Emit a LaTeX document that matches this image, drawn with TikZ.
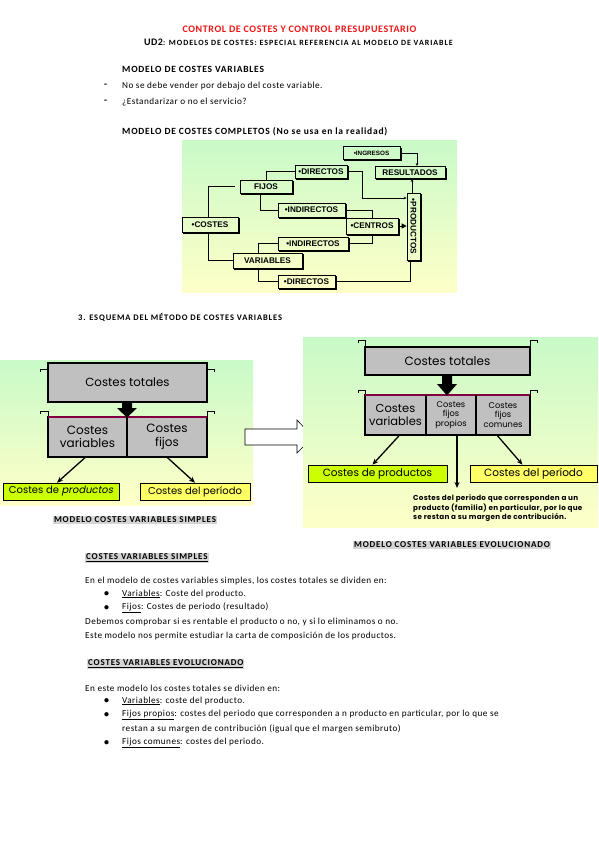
\documentclass[tikz,border=0pt]{standalone}
\usepackage{fontspec}
\setmainfont{Carlito}
\newfontfamily\arialf{Liberation Sans}
\newfontfamily\gothf{Poppins}
\newfontfamily\gothsl[FakeSlant=0.2]{Poppins}
\usetikzlibrary{arrows.meta,calc}
\definecolor{ctitle}{RGB}{240,20,20}
\definecolor{bgtop}{RGB}{200,250,200}
\definecolor{bgbot}{RGB}{255,255,200}
\definecolor{boxgray}{RGB}{192,192,192}
\definecolor{maroonc}{RGB}{128,0,64}
\definecolor{ygreen}{RGB}{204,255,0}
\definecolor{yel}{RGB}{255,255,102}
\definecolor{hl}{RGB}{212,212,212}
\tikzset{
  txt/.style={anchor=west,inner sep=0pt,font=\fontsize{9.2}{11}\selectfont\addfontfeatures{LetterSpace=5}},
  btxt/.style={txt,font=\bfseries\fontsize{9.5}{11}\selectfont\addfontfeatures{LetterSpace=8}},
  hlnode/.style={anchor=west,inner sep=1pt,fill=hl,font=\bfseries\fontsize{9}{10}\selectfont\addfontfeatures{LetterSpace=9}},
  bul/.style={txt,font=\bfseries\fontsize{10}{11}\selectfont},
  mb/.style={draw,line width=0.6pt,inner sep=0pt,font=\arialf\bfseries\fontsize{8.2}{9}\selectfont},
  conn/.style={line width=0.7pt},
  sarr/.style={conn,-{Stealth[length=3pt,width=2.6pt]}},
  gbox/.style={draw,line width=1.8pt,fill=boxgray,inner sep=0pt},
  cell/.style={inner sep=0pt,align=center,font=\gothf\fontsize{12}{13.5}\selectfont},
  scell/.style={inner sep=0pt,align=center,font=\gothf\fontsize{8.3}{9.3}\selectfont},
  rbox/.style={draw,line width=0.6pt,inner sep=0pt,font=\gothf\fontsize{10}{11}\selectfont},
  barr/.style={line width=1.3pt,-{Stealth[length=6pt,width=5pt]}},
  bracket/.style={line width=0.8pt},
}
\newcommand\dbox[6][]{%
  \node[mb,minimum width=#4pt,minimum height=#5pt,#1] (#2) at (#3) {#6};
  \draw[line width=1.2pt] ([shift={(0.6pt,-1.6pt)}]#2.north east) -- ([shift={(0.6pt,-0.6pt)}]#2.south east) -- ([shift={(1.6pt,-0.6pt)}]#2.south west);}
\begin{document}
\begin{tikzpicture}[x=1pt,y=-1pt]
\useasboundingbox (0,0) rectangle (599,848);
\fill[white] (0,0) rectangle (599,848);

% ---------- header ----------
\node[inner sep=0pt,font=\bfseries\fontsize{10}{11}\selectfont\addfontfeatures{LetterSpace=6},text=ctitle] (t1) at (299.5,29) {CONTROL DE COSTES Y CONTROL PRESUPUESTARIO};
\node[inner sep=0pt,font=\bfseries\fontsize{8}{9}\selectfont\addfontfeatures{LetterSpace=12}] (t2) at (298.5,42) {{\fontsize{10}{11}\selectfont\addfontfeatures{LetterSpace=5}UD2}: MODELOS DE COSTES: ESPECIAL REFERENCIA AL MODELO DE VARIABLE};
\node[btxt] (h1) at (122,69) {MODELO DE COSTES VARIABLES};
\node[bul] (d1) at (104,86) {-};
\node[txt] (l1) at (122,86) {No se debe vender por debajo del coste variable.};
\node[bul] (d2) at (104,102) {-};
\node[txt] (l2) at (122,102) {¿Estandarizar o no el servicio?};
\node[btxt] (h2) at (122,132) {MODELO DE COSTES COMPLETOS (No se usa en la realidad)};

% ---------- costes completos ----------
\shade[top color=bgtop,bottom color=bgbot] (182,140) rectangle (457,292);
\dbox[font=\arialf\bfseries\fontsize{6.3}{7}\selectfont]{ing}{371.5,153}{57}{13}{•INGRESOS}
\dbox[line width=0.9pt]{res}{410,172.5}{70}{12}{RESULTADOS}
\dbox{dirt}{321,171.5}{52}{13}{•DIRECTOS}
\dbox{fij}{266,186.5}{52}{13}{FIJOS}
\dbox{indt}{311.5,210}{67}{14}{•INDIRECTOS}
\dbox{cos}{210,224.5}{56}{15}{•COSTES}
\dbox{cen}{372,226}{52}{16}{•CENTROS}
\dbox{pro}{413.5,226.5}{13}{67}{\rotatebox{-90}{•PRODUCTOS}}
\dbox{indb}{313,243.5}{70}{13}{•INDIRECTOS}
\dbox{var}{267.5,260.5}{69}{15}{VARIABLES}
\dbox{dirb}{306.5,281.5}{57}{13}{•DIRECTOS}

\draw[conn,shorten >=5pt] ([xshift=-2pt]cos.north) |- (fij.west);
\draw[conn] ([xshift=-2pt]cos.south) |- (var.west);
\draw[conn] (fij.north) |- (dirt.west);
\draw[conn] ([xshift=-6pt]fij.south) |- (indt.west);
\draw[conn] ([xshift=-9.5pt]var.north) |- (indb.west);
\draw[conn] ([xshift=-9.5pt]var.south) |- (dirb.west);
\draw[conn] (indt.east) -| (cen.north);
\draw[conn] (indb.east) -| (cen.south);
\coordinate (k1) at (362,198);
\draw[sarr] (dirt.east) -| (k1) -- (k1 -| pro.west);
\draw[conn,-{Triangle[length=5pt,width=5pt]}] (cen.east) -- (cen.east -| pro.west);
\draw[conn] (dirb.east) -| ([xshift=-3pt]pro.south);
\draw[sarr] ([xshift=-1.5pt]pro.north) -- ([xshift=-1.5pt]pro.north |- res.south);
\draw[sarr] (ing.east) -| ([xshift=7pt]res.north);

% ---------- section 3 ----------
\node[txt,font=\bfseries\fontsize{8.5}{10}\selectfont\addfontfeatures{LetterSpace=10}] (h3) at (78,317) {3. ESQUEMA DEL MÉTODO DE COSTES VARIABLES};

% left diagram
\shade[top color=bgtop,bottom color=bgbot] (0,360) rectangle (253,505);
\node[gbox,minimum width=159pt,minimum height=39pt,font=\gothf\fontsize{11.8}{13}\selectfont] (ltot) at (127.5,382.5) {Costes totales};
\draw[bracket] (40,372) -- (40,369) -- (48,369);
\draw[bracket] (207,369) -- (214,369) -- (214,372);
\draw[bracket] (40,414) -- (40,411) -- (48,411) -- (48,417);
\draw[bracket] (207,417) -- (207,411) -- (214,411) -- (214,414);
\draw[gbox] (48,417) rectangle (207,457);
\draw[line width=1.5pt,maroonc] (48,417) -- (207,417);
\draw[line width=1.5pt] (127,417) -- (127,457);
\node[cell,minimum width=79pt,minimum height=40pt] (lvar) at (87.5,437) {Costes\\variables};
\node[cell,minimum width=80pt,minimum height=40pt] (lfij) at (167,437) {Costes\\fijos};
\fill (122,402) -- (132,402) -- (132,408) -- (137,408) -- (127,417.5) -- (117,408) -- (122,408) -- cycle;
\node[rbox,fill=ygreen,minimum width=116pt,minimum height=17pt] (lprod) at (61,491.5) {Costes de {\gothsl productos}};
\node[rbox,fill=yel,minimum width=110pt,minimum height=17pt] (lper) at (195,491.5) {Costes del período};
\draw[barr] ([xshift=-2pt]lvar.south) -- ([xshift=-4pt]lprod.north);
\draw[barr] (lfij.south) -- (lper.north);
\node[hlnode,anchor=center] (lab1) at (135,520) {MODELO COSTES VARIABLES SIMPLES};

% big white arrow
\draw[fill=white,line width=0.6pt] (245,429) -- (297,429) -- (297,420) -- (313,437) -- (297,453) -- (297,445) -- (245,445) -- cycle;

% right diagram
\shade[top color=bgtop,bottom color=bgbot] (303,337) rectangle (598,527);
\node[gbox,minimum width=165pt,minimum height=28pt,font=\gothf\fontsize{12}{13}\selectfont] (rtot) at (447.5,361) {Costes totales};
\draw[bracket] (358,343) -- (358,340) -- (365,340) -- (365,347);
\draw[bracket] (530,347) -- (530,340) -- (537,340) -- (537,343);
\draw[bracket] (358,393) -- (358,390) -- (365,390) -- (365,395);
\draw[bracket] (530,395) -- (530,390) -- (537,390) -- (537,393);
\draw[gbox] (365,395) rectangle (530,435);
\draw[line width=1.5pt,maroonc] (365,395) -- (530,395);
\draw[line width=1.5pt] (426,395) -- (426,435);
\draw[line width=1.5pt] (476,395) -- (476,435);
\node[cell,minimum width=61pt,minimum height=40pt,font=\gothf\fontsize{11.5}{13}\selectfont] (rvar) at (395.5,415) {Costes\\variables};
\node[scell,minimum width=50pt,minimum height=40pt] (rpro) at (451,415) {Costes\\fijos\\propios};
\node[scell,minimum width=54pt,minimum height=40pt] (rcom) at (503,415) {Costes\\fijos\\comunes};
\fill (442,375) -- (452,375) -- (452,384) -- (457,384) -- (447,395.5) -- (437,384) -- (442,384) -- cycle;
\node[rbox,fill=ygreen,minimum width=139pt,minimum height=17pt,font=\gothf\fontsize{10.5}{11}\selectfont] (rprod) at (377.5,473.5) {Costes de productos};
\node[rbox,fill=yel,minimum width=127pt,minimum height=17pt,font=\gothf\fontsize{10.5}{11}\selectfont] (rper) at (533.5,473.5) {Costes del período};
\node[anchor=north west,align=left,inner sep=0pt,font=\gothf\bfseries\fontsize{7.2}{9.5}\selectfont\addfontfeatures{LetterSpace=4}] (rnote) at (413,495) {Costes del periodo que corresponden a un\\producto (familia) en particular, por lo que\\se restan a su margen de contribución.};
\coordinate (rtip) at (457,488);
\draw[barr] ([xshift=4pt]rvar.south) -- ([xshift=-5pt]rprod.north);
\draw[barr] ([xshift=6pt]rpro.south) -- (rtip);
\draw[barr] ([xshift=-6pt]rcom.south) -- ([xshift=-11pt]rper.north);
\node[hlnode,anchor=center] (lab2) at (452,545) {MODELO COSTES VARIABLES EVOLUCIONADO};

% ---------- bottom text ----------
\node[hlnode] (s1) at (85,558) {\underline{COSTES VARIABLES SIMPLES}};
\node[txt] (b1) at (85,581) {En el modelo de costes variables simples, los costes totales se dividen en:};
\node[bul] (u1) at (104,594) {•};
\node[txt] (b2) at (122,594) {\underline{Variables}: Coste del producto.};
\node[bul] (u2) at (104,608) {•};
\node[txt] (b3) at (122,608) {\underline{Fijos}: Costes de periodo (resultado)};
\node[txt] (b4) at (85,622) {Debemos comprobar si es rentable el producto o no, y si lo eliminamos o no.};
\node[txt] (b5) at (85,636) {Este modelo nos permite estudiar la carta de composición de los productos.};

\node[hlnode] (s2) at (87,664) {\underline{COSTES VARIABLES EVOLUCIONADO}};
\node[txt] (c1) at (85,688) {En este modelo los costes totales se dividen en:};
\node[bul] (v1) at (104,701) {•};
\node[txt] (c2) at (122,701) {\underline{Variables}: coste del producto.};
\node[bul] (v2) at (104,715) {•};
\node[txt] (c3) at (122,715) {\underline{Fijos propios}: costes del periodo que corresponden a n producto en particular, por lo que se};
\node[txt] (c4) at (122,729) {restan a su margen de contribución (igual que el margen semibruto)};
\node[bul] (v3) at (104,743) {•};
\node[txt] (c5) at (122,743) {\underline{Fijos comunes}: costes del periodo.};
\end{tikzpicture}
\end{document}
